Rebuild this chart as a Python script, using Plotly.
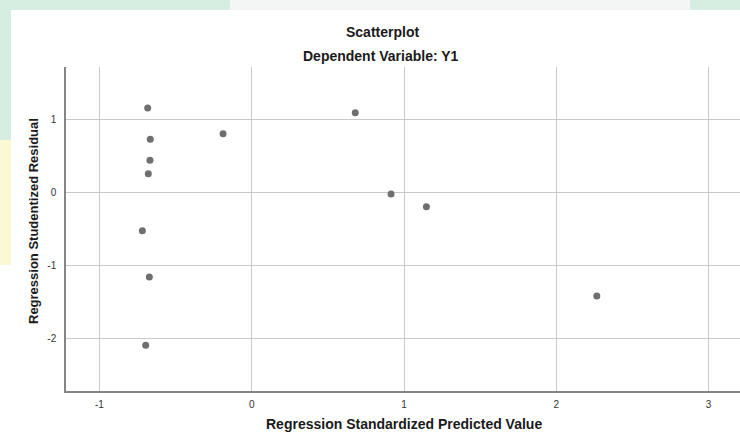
import plotly.graph_objects as go

# Standardized predicted values and studentized residuals
predicted = [-0.683, -0.666, -0.668, -0.679, -0.718, -0.672, -0.696,
             -0.188, 0.680, 0.915, 1.147, 2.266]
residual = [1.155, 0.726, 0.438, 0.255, -0.526, -1.160, -2.096,
            0.803, 1.090, -0.023, -0.197, -1.420]

x_ticks = [-1, 0, 1, 2, 3]
y_ticks = [-2, -1, 0, 1]

title_text = "Scatterplot"
subtitle_text = "Dependent Variable: Y1"
x_title = "Regression Standardized Predicted Value"
y_title = "Regression Studentized Residual"

W, H = 740, 434
L, T, B, R = 66, 67, 43, 0
pw, ph = W - L - R, H - T - B


def px_x(p):
    return (p - L) / pw


def px_y(p):
    return (H - B - p) / ph


font = "Liberation Sans, Arial, sans-serif"
dark = "#1a1a1a"

fig = go.Figure()
fig.add_trace(go.Scatter(
    x=predicted, y=residual, mode="markers",
    marker=dict(size=7, color="#6f6f6f", line=dict(width=0)),
    showlegend=False, hoverinfo="x+y",
))


def band(x0, x1, y0, y1, color):
    return dict(type="rect", xref="paper", yref="paper",
                x0=px_x(x0), x1=px_x(x1), y0=px_y(y1), y1=px_y(y0),
                fillcolor=color, line=dict(width=0), layer="below")


shapes = [
    # soft coloured margins around the chart card
    band(0, 230, 0, 10, "#d6eee2"),
    band(230, 690, 0, 10, "#f4f6f5"),
    band(690, 740, 0, 10, "#d6eee2"),
    band(0, 11, 0, 140, "#d6eee2"),
    band(0, 11, 140, 265, "#fbf8d4"),
    band(0, 11, 265, 434, "#ffffff"),
    # white chart card
    band(11, 740, 10, 434, "#ffffff"),
]

annotations = [
    dict(text=f"<b>{title_text}</b>", xref="paper", yref="paper",
         x=px_x(382), y=px_y(32), xanchor="center", yanchor="middle",
         showarrow=False, font=dict(family=font, size=14, color=dark)),
    dict(text=f"<b>{subtitle_text}</b>", xref="paper", yref="paper",
         x=px_x(381), y=px_y(56), xanchor="center", yanchor="middle",
         showarrow=False, font=dict(family=font, size=14, color=dark)),
    dict(text=f"<b>{x_title}</b>", xref="paper", yref="paper",
         x=px_x(404), y=px_y(424), xanchor="center", yanchor="middle",
         showarrow=False, font=dict(family=font, size=14, color=dark)),
    dict(text=f"<b>{y_title}</b>", xref="paper", yref="paper",
         x=px_x(33), y=px_y(221), xanchor="center", yanchor="middle",
         textangle=-90, showarrow=False,
         font=dict(family=font, size=13, color=dark)),
]

fig.update_layout(
    width=W, height=H,
    margin=dict(l=L, r=R, t=T, b=B, pad=0),
    paper_bgcolor="#ffffff",
    plot_bgcolor="#ffffff",
    shapes=shapes,
    annotations=annotations,
    font=dict(family=font, size=10, color="#333333"),
)

fig.update_xaxes(
    range=[(L - 251.7) / 152.3, (W - 251.7) / 152.3],
    tickvals=x_ticks, ticktext=[str(v) for v in x_ticks],
    showgrid=True, gridcolor="#c9c9c9", gridwidth=1,
    zeroline=False, showline=True, linecolor="#858585", linewidth=1.5,
    ticks="", ticklabelstandoff=3,
    tickfont=dict(family=font, size=10, color="#333333"),
)
fig.update_yaxes(
    range=[(192.3 - 391) / 73, (192.3 - 67) / 73],
    tickvals=y_ticks, ticktext=[str(v) for v in y_ticks],
    showgrid=True, gridcolor="#c9c9c9", gridwidth=1,
    zeroline=False, showline=True, linecolor="#858585", linewidth=1.5,
    ticks="", ticklabelstandoff=6,
    tickfont=dict(family=font, size=10, color="#333333"),
)

fig.write_html("out.html")
